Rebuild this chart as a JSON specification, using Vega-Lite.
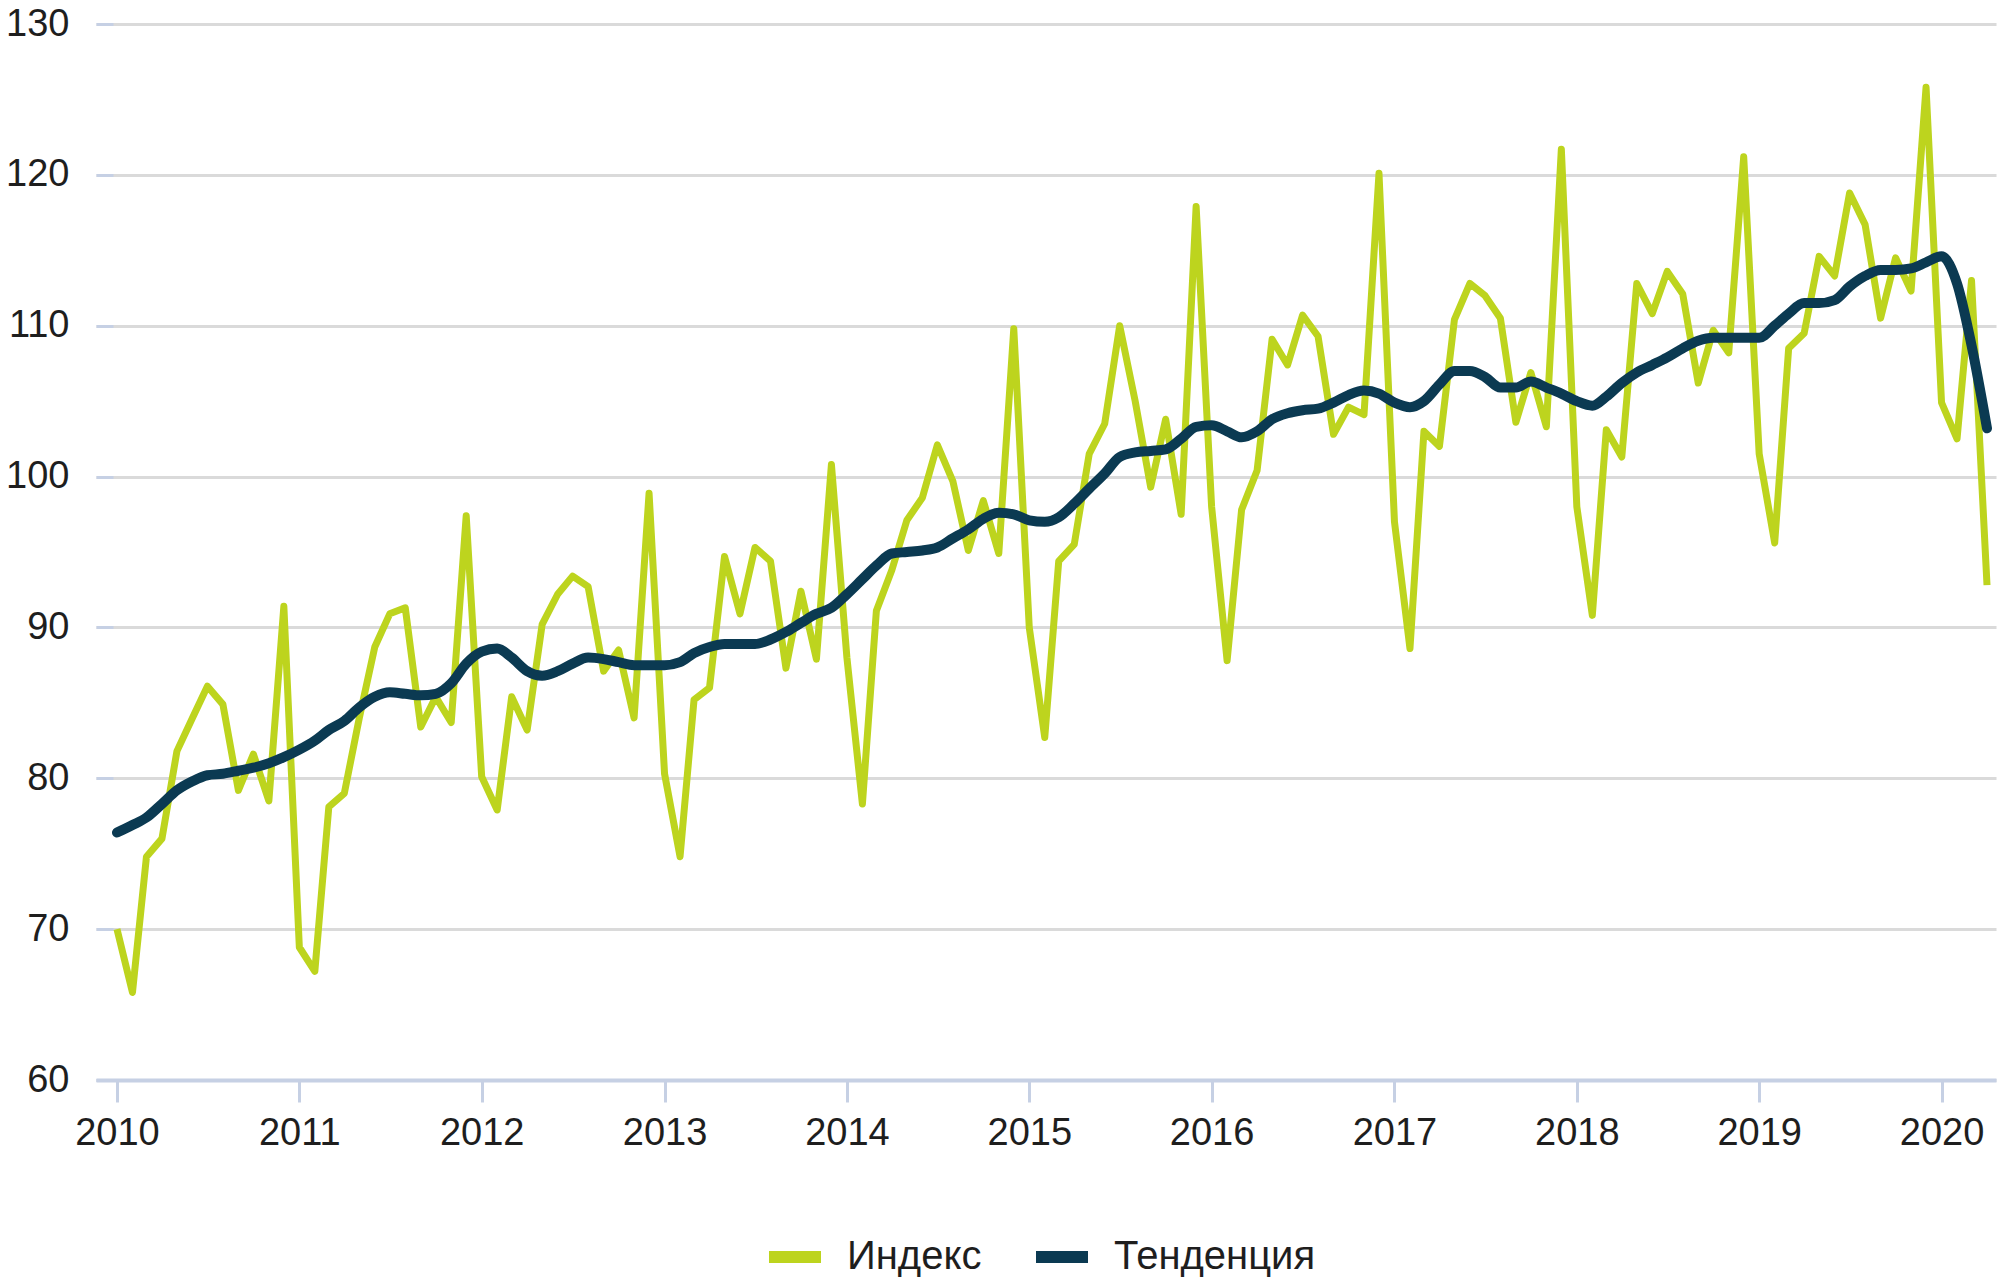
{
  "$schema": "https://vega.github.io/schema/vega-lite/v6.json",
  "width": 1900,
  "height": 1056,
  "autosize": {"type": "none"},
  "padding": {"left": 96, "top": 24, "right": 4, "bottom": 208},
  "background": "white",
  "config": {
    "view": {"stroke": null},
    "font": "Liberation Sans"
  },
  "data": {"values": [
    {"date":"2010-01-01","index":70.0,"trend":76.4},
    {"date":"2010-02-01","index":65.8,"trend":76.9},
    {"date":"2010-03-01","index":74.8,"trend":77.4},
    {"date":"2010-04-01","index":76.0,"trend":78.3},
    {"date":"2010-05-01","index":81.8,"trend":79.2},
    {"date":"2010-06-01","index":84.0,"trend":79.8},
    {"date":"2010-07-01","index":86.1,"trend":80.2},
    {"date":"2010-08-01","index":84.9,"trend":80.3},
    {"date":"2010-09-01","index":79.2,"trend":80.5},
    {"date":"2010-10-01","index":81.6,"trend":80.7},
    {"date":"2010-11-01","index":78.5,"trend":81.0},
    {"date":"2010-12-01","index":91.4,"trend":81.4},
    {"date":"2011-01-01","index":68.8,"trend":81.9},
    {"date":"2011-02-01","index":67.2,"trend":82.5},
    {"date":"2011-03-01","index":78.1,"trend":83.2},
    {"date":"2011-04-01","index":79.0,"trend":83.8},
    {"date":"2011-05-01","index":84.0,"trend":84.7},
    {"date":"2011-06-01","index":88.7,"trend":85.4},
    {"date":"2011-07-01","index":90.9,"trend":85.7},
    {"date":"2011-08-01","index":91.3,"trend":85.6},
    {"date":"2011-09-01","index":83.4,"trend":85.5},
    {"date":"2011-10-01","index":85.4,"trend":85.6},
    {"date":"2011-11-01","index":83.7,"trend":86.3},
    {"date":"2011-12-01","index":97.4,"trend":87.6},
    {"date":"2012-01-01","index":80.1,"trend":88.4},
    {"date":"2012-02-01","index":77.9,"trend":88.6},
    {"date":"2012-03-01","index":85.4,"trend":88.0},
    {"date":"2012-04-01","index":83.2,"trend":87.1},
    {"date":"2012-05-01","index":90.2,"trend":86.8},
    {"date":"2012-06-01","index":92.2,"trend":87.1},
    {"date":"2012-07-01","index":93.4,"trend":87.6},
    {"date":"2012-08-01","index":92.7,"trend":88.0},
    {"date":"2012-09-01","index":87.1,"trend":87.9},
    {"date":"2012-10-01","index":88.5,"trend":87.7},
    {"date":"2012-11-01","index":84.0,"trend":87.5},
    {"date":"2012-12-01","index":98.9,"trend":87.5},
    {"date":"2013-01-01","index":80.3,"trend":87.5},
    {"date":"2013-02-01","index":74.8,"trend":87.7},
    {"date":"2013-03-01","index":85.2,"trend":88.3},
    {"date":"2013-04-01","index":86.0,"trend":88.7},
    {"date":"2013-05-01","index":94.7,"trend":88.9},
    {"date":"2013-06-01","index":90.9,"trend":88.9},
    {"date":"2013-07-01","index":95.3,"trend":88.9},
    {"date":"2013-08-01","index":94.4,"trend":89.2},
    {"date":"2013-09-01","index":87.3,"trend":89.7},
    {"date":"2013-10-01","index":92.4,"trend":90.3},
    {"date":"2013-11-01","index":87.9,"trend":90.9},
    {"date":"2013-12-01","index":100.8,"trend":91.3},
    {"date":"2014-01-01","index":88.0,"trend":92.2},
    {"date":"2014-02-01","index":78.3,"trend":93.2},
    {"date":"2014-03-01","index":91.1,"trend":94.1},
    {"date":"2014-04-01","index":93.8,"trend":94.9},
    {"date":"2014-05-01","index":97.1,"trend":95.0},
    {"date":"2014-06-01","index":98.6,"trend":95.1},
    {"date":"2014-07-01","index":102.1,"trend":95.3},
    {"date":"2014-08-01","index":99.7,"trend":95.9},
    {"date":"2014-09-01","index":95.1,"trend":96.5},
    {"date":"2014-10-01","index":98.4,"trend":97.2},
    {"date":"2014-11-01","index":94.9,"trend":97.6},
    {"date":"2014-12-01","index":109.8,"trend":97.5},
    {"date":"2015-01-01","index":90.0,"trend":97.1},
    {"date":"2015-02-01","index":82.7,"trend":97.0},
    {"date":"2015-03-01","index":94.4,"trend":97.3},
    {"date":"2015-04-01","index":95.5,"trend":98.2},
    {"date":"2015-05-01","index":101.5,"trend":99.2},
    {"date":"2015-06-01","index":103.5,"trend":100.2},
    {"date":"2015-07-01","index":110.0,"trend":101.3},
    {"date":"2015-08-01","index":105.0,"trend":101.6},
    {"date":"2015-09-01","index":99.3,"trend":101.7},
    {"date":"2015-10-01","index":103.8,"trend":101.8},
    {"date":"2015-11-01","index":97.5,"trend":102.5},
    {"date":"2015-12-01","index":117.9,"trend":103.3},
    {"date":"2016-01-01","index":98.0,"trend":103.4},
    {"date":"2016-02-01","index":87.8,"trend":103.0},
    {"date":"2016-03-01","index":97.8,"trend":102.6},
    {"date":"2016-04-01","index":100.4,"trend":103.0},
    {"date":"2016-05-01","index":109.1,"trend":103.8},
    {"date":"2016-06-01","index":107.4,"trend":104.2},
    {"date":"2016-07-01","index":110.7,"trend":104.4},
    {"date":"2016-08-01","index":109.3,"trend":104.5},
    {"date":"2016-09-01","index":102.8,"trend":104.9},
    {"date":"2016-10-01","index":104.6,"trend":105.4},
    {"date":"2016-11-01","index":104.1,"trend":105.7},
    {"date":"2016-12-01","index":120.1,"trend":105.5},
    {"date":"2017-01-01","index":97.0,"trend":104.9},
    {"date":"2017-02-01","index":88.6,"trend":104.6},
    {"date":"2017-03-01","index":103.0,"trend":105.0},
    {"date":"2017-04-01","index":102.0,"trend":106.1},
    {"date":"2017-05-01","index":110.4,"trend":107.0},
    {"date":"2017-06-01","index":112.8,"trend":107.0},
    {"date":"2017-07-01","index":112.0,"trend":106.6},
    {"date":"2017-08-01","index":110.5,"trend":105.9},
    {"date":"2017-09-01","index":103.6,"trend":105.9},
    {"date":"2017-10-01","index":106.9,"trend":106.3},
    {"date":"2017-11-01","index":103.3,"trend":105.9},
    {"date":"2017-12-01","index":121.7,"trend":105.5},
    {"date":"2018-01-01","index":98.0,"trend":105.0},
    {"date":"2018-02-01","index":90.8,"trend":104.7},
    {"date":"2018-03-01","index":103.1,"trend":105.3},
    {"date":"2018-04-01","index":101.3,"trend":106.2},
    {"date":"2018-05-01","index":112.8,"trend":106.9},
    {"date":"2018-06-01","index":110.8,"trend":107.4},
    {"date":"2018-07-01","index":113.6,"trend":107.9},
    {"date":"2018-08-01","index":112.1,"trend":108.5},
    {"date":"2018-09-01","index":106.2,"trend":109.0},
    {"date":"2018-10-01","index":109.7,"trend":109.2},
    {"date":"2018-11-01","index":108.2,"trend":109.2},
    {"date":"2018-12-01","index":121.2,"trend":109.2},
    {"date":"2019-01-01","index":101.5,"trend":109.2},
    {"date":"2019-02-01","index":95.6,"trend":110.0},
    {"date":"2019-03-01","index":108.5,"trend":110.8},
    {"date":"2019-04-01","index":109.5,"trend":111.5},
    {"date":"2019-05-01","index":114.6,"trend":111.5},
    {"date":"2019-06-01","index":113.3,"trend":111.7},
    {"date":"2019-07-01","index":118.8,"trend":112.6},
    {"date":"2019-08-01","index":116.7,"trend":113.3},
    {"date":"2019-09-01","index":110.5,"trend":113.7},
    {"date":"2019-10-01","index":114.5,"trend":113.7},
    {"date":"2019-11-01","index":112.3,"trend":113.8},
    {"date":"2019-12-01","index":125.8,"trend":114.2},
    {"date":"2020-01-01","index":104.9,"trend":114.6},
    {"date":"2020-02-01","index":102.5,"trend":112.8},
    {"date":"2020-03-01","index":113.0,"trend":108.7},
    {"date":"2020-04-01","index":92.8,"trend":103.2}
  ]},
  "transform": [{"fold": ["index", "trend"], "as": ["series", "value"]}],
  "encoding": {
    "x": {
      "field": "date", "type": "temporal",
      "scale": {"type": "utc", "domain": [
        {"year": 2009, "month": 11, "date": 20, "utc": true},
        {"year": 2020, "month": 4, "date": 19, "utc": true}
      ]},
      "axis": {
        "title": null, "format": "%Y", "formatType": "utc",
        "values": [
          {"year": 2010, "month": 1, "date": 1, "utc": true},
          {"year": 2011, "month": 1, "date": 1, "utc": true},
          {"year": 2012, "month": 1, "date": 1, "utc": true},
          {"year": 2013, "month": 1, "date": 1, "utc": true},
          {"year": 2014, "month": 1, "date": 1, "utc": true},
          {"year": 2015, "month": 1, "date": 1, "utc": true},
          {"year": 2016, "month": 1, "date": 1, "utc": true},
          {"year": 2017, "month": 1, "date": 1, "utc": true},
          {"year": 2018, "month": 1, "date": 1, "utc": true},
          {"year": 2019, "month": 1, "date": 1, "utc": true},
          {"year": 2020, "month": 1, "date": 1, "utc": true}
        ],
        "grid": false,
        "domain": true, "domainColor": "#c6d0e4", "domainWidth": 4,
        "ticks": true, "tickColor": "#c6d0e4", "tickWidth": 3, "tickSize": 22,
        "labelFontSize": 38, "labelColor": "#1e1e1e", "labelPadding": 12,
        "labelFlush": false, "labelOverlap": false, "zindex": 1
      }
    },
    "y": {
      "field": "value", "type": "quantitative",
      "scale": {"domain": [60, 130], "nice": false, "zero": false},
      "axis": {
        "title": null,
        "values": [60, 70, 80, 90, 100, 110, 120, 130],
        "grid": true, "gridColor": "#dadada", "gridWidth": 3,
        "domain": false,
        "ticks": true, "tickColor": "#c6d0e4", "tickWidth": 3, "tickSize": -17,
        "labelFontSize": 38, "labelColor": "#1e1e1e", "labelPadding": 44,
        "labelOverlap": false
      }
    },
    "color": {
      "field": "series", "type": "nominal",
      "scale": {"domain": ["index", "trend"], "range": ["#bdd41e", "#0b3a52"]},
      "legend": {
        "title": null, "orient": "none", "legendX": 667, "legendY": 1201,
        "direction": "horizontal",
        "labelExpr": "datum.value == 'index' ? 'Индекс' : 'Тенденция'",
        "symbolType": "stroke", "symbolSize": 2704, "symbolStrokeWidth": 12,
        "labelFontSize": 40, "labelColor": "#1e1e1e", "labelOffset": 20,
        "labelLimit": 500, "columnPadding": 30
      }
    }
  },
  "layer": [
    {
      "transform": [{"filter": "datum.series == 'index'"}],
      "mark": {"type": "line", "strokeWidth": 7, "strokeJoin": "round"}
    },
    {
      "transform": [{"filter": "datum.series == 'trend'"}],
      "mark": {"type": "line", "strokeWidth": 10, "strokeJoin": "round", "strokeCap": "round", "interpolate": "monotone"}
    }
  ]
}
